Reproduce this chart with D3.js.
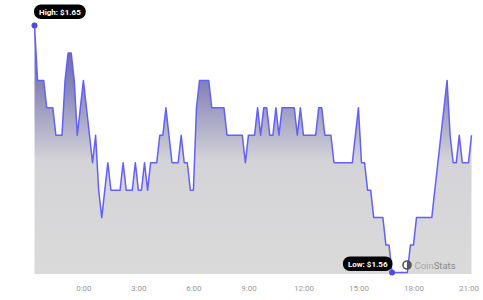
<!DOCTYPE html>
<html>
<head>
<meta charset="utf-8">
<script src="https://cdn.jsdelivr.net/npm/d3@7"></script>
<style>
  body { margin: 0; background: #fff; }
  svg { display: block; font-family: Roboto, "Noto Sans", sans-serif; }
</style>
</head>
<body>
<div id="chart"></div>
<script>
// price every 10 minutes, starting 21:20 the day before
var startTime = Date.UTC(2024, 0, 1, 21, 20);
var stepMinutes = 10;
var prices = [
  1.65, 1.63, 1.63, 1.63, 1.62, 1.62, 1.62, 1.61, 1.61, 1.61,
  1.63, 1.64, 1.64, 1.63, 1.61, 1.62, 1.63, 1.62, 1.61, 1.60,
  1.61, 1.59, 1.58, 1.59, 1.60, 1.59, 1.59, 1.59, 1.59, 1.60,
  1.59, 1.59, 1.59, 1.60, 1.59, 1.59, 1.60, 1.59, 1.60, 1.60,
  1.60, 1.61, 1.61, 1.62, 1.61, 1.60, 1.60, 1.60, 1.61, 1.60,
  1.60, 1.59, 1.59, 1.62, 1.63, 1.63, 1.63, 1.63, 1.62, 1.62,
  1.62, 1.62, 1.62, 1.61, 1.61, 1.61, 1.61, 1.61, 1.61, 1.60,
  1.61, 1.61, 1.61, 1.62, 1.61, 1.62, 1.62, 1.61, 1.61, 1.62,
  1.61, 1.62, 1.62, 1.62, 1.62, 1.62, 1.61, 1.62, 1.61, 1.61,
  1.61, 1.61, 1.61, 1.62, 1.62, 1.61, 1.61, 1.61, 1.60, 1.60,
  1.60, 1.60, 1.60, 1.60, 1.60, 1.61, 1.62, 1.60, 1.60, 1.59,
  1.59, 1.58, 1.58, 1.58, 1.58, 1.57, 1.57, 1.56, 1.56, 1.56,
  1.56, 1.56, 1.56, 1.57, 1.57, 1.58, 1.58, 1.58, 1.58, 1.58,
  1.58, 1.59, 1.60, 1.61, 1.62, 1.63, 1.61, 1.60, 1.60, 1.61,
  1.60, 1.60, 1.60, 1.61
];
var tickHours = [0, 3, 6, 9, 12, 15, 18, 21];

var width = 483, height = 300;

var data = prices.map(function (p, i) {
  return { t: new Date(startTime + i * stepMinutes * 60000), v: p };
});

var svg = d3.select("#chart").append("svg")
  .attr("width", width)
  .attr("height", height);

var x = d3.scaleUtc()
  .domain(d3.extent(data, function (d) { return d.t; }))
  .range([34.5, 471.5]);

var y = d3.scaleLinear()
  .domain([1.56, 1.65])
  .range([272.5, 25.5]);

var defs = svg.append("defs");
var grad = defs.append("linearGradient")
  .attr("id", "fillGrad")
  .attr("gradientUnits", "userSpaceOnUse")
  .attr("x1", 0).attr("y1", y(1.65))
  .attr("x2", 0).attr("y2", y(1.56));
grad.append("stop").attr("offset", "0%").attr("stop-color", "#5a56c0");
grad.append("stop").attr("offset", "25%").attr("stop-color", "#8986b8");
grad.append("stop").attr("offset", "55%").attr("stop-color", "#d4d4d8");
grad.append("stop").attr("offset", "100%").attr("stop-color", "#dadada");

var area = d3.area()
  .x(function (d) { return x(d.t); })
  .y0(y(1.56) + 1.5)
  .y1(function (d) { return y(d.v); });

var line = d3.line()
  .x(function (d) { return x(d.t); })
  .y(function (d) { return y(d.v); });

svg.append("path").datum(data)
  .attr("d", area)
  .attr("fill", "url(#fillGrad)");

svg.append("path").datum(data)
  .attr("d", line)
  .attr("fill", "none")
  .attr("stroke", "#6160f8")
  .attr("stroke-width", 1.5)
  .attr("stroke-linejoin", "round");

// x axis, labels only
var tickDates = tickHours.map(function (h) { return new Date(Date.UTC(2024, 0, 2, h)); });
var xAxis = d3.axisBottom(x)
  .tickValues(tickDates)
  .tickFormat(d3.utcFormat("%-H:%M"))
  .tickSize(0)
  .tickPadding(0);

var gx = svg.append("g")
  .attr("transform", "translate(0,285)")
  .call(xAxis);
gx.select(".domain").remove();
gx.selectAll("text")
  .attr("fill", "#9a9a9a")
  .attr("font-size", 8)
  .attr("font-family", "Roboto, sans-serif");

// watermark
var wm = svg.append("g").attr("transform", "translate(407,265)");
wm.append("circle").attr("r", 4).attr("fill", "none").attr("stroke", "#555").attr("stroke-width", 1.6);
wm.append("path").attr("d", d3.arc()({ innerRadius: 0, outerRadius: 4, startAngle: 0, endAngle: Math.PI })).attr("fill", "#555");
var wmText = svg.append("text")
  .attr("x", 414.5).attr("y", 268.5)
  .attr("font-size", 9.5)
  .attr("font-family", "Roboto, sans-serif");
wmText.append("tspan").attr("fill", "#a8a8a8").text("Coin");
wmText.append("tspan").attr("fill", "#8a8a8a").text("Stats");

// high / low markers
var hi = data[d3.maxIndex(data, function (d) { return d.v; })];
var lo = data[d3.minIndex(data, function (d) { return d.v; })];

function pill(px, py, label, anchorRight) {
  var g = svg.append("g");
  var t = g.append("text")
    .attr("font-size", 8)
    .attr("font-weight", "bold")
    .attr("fill", "#fff")
    .attr("text-anchor", "middle")
    .text(label);
  var w = t.node().getComputedTextLength() + 10;
  var left = anchorRight ? px - w : px;
  g.insert("rect", "text")
    .attr("x", left).attr("y", py)
    .attr("width", w).attr("height", 14.5)
    .attr("rx", 7)
    .attr("fill", "#000");
  t.attr("x", left + w / 2).attr("y", py + 10);
}

pill(x(hi.t) - 0.5, 4.5, "High: $" + hi.v.toFixed(2), false);
pill(x(lo.t) + 0.5, 256.5, "Low: $" + lo.v.toFixed(2), true);

svg.append("circle").attr("cx", x(hi.t)).attr("cy", y(hi.v)).attr("r", 3).attr("fill", "#4f4bea");
svg.append("circle").attr("cx", x(lo.t)).attr("cy", y(lo.v)).attr("r", 3).attr("fill", "#4f4bea");
</script>
</body>
</html>
